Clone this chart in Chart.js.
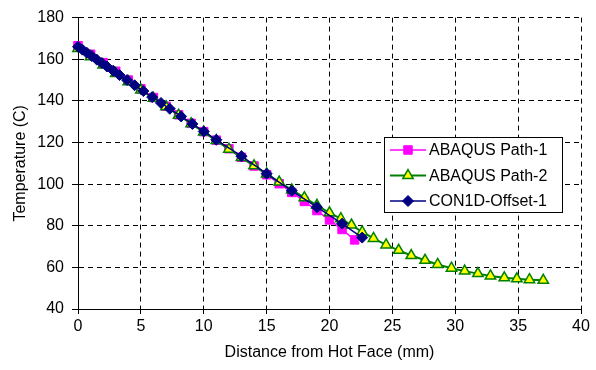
<!DOCTYPE html>
<html>
<head>
<meta charset="utf-8">
<script src="https://cdn.jsdelivr.net/npm/chart.js@4"></script>
<style>
    html, body { margin: 0; padding: 0; background: #fff; }
</style>
</head>
<body>
<canvas id="temperatureChart" width="596" height="370"></canvas>
<script>
// Données
const seriesNames = ['ABAQUS Path-1', 'ABAQUS Path-2', 'CON1D-Offset-1'];

const path1X = [0, 1, 2, 3, 4, 5, 6, 7, 8, 9, 10, 11, 12, 13, 14, 15, 16, 17, 18, 19, 20, 21, 22];
const path1T = [166.5, 162.4, 158.3, 154.2, 150.0, 145.8, 141.6, 137.4, 133.3, 129.2, 125.2, 121.1,
                117.0, 112.9, 108.7, 104.5, 100.2, 96.0, 91.7, 87.3, 82.8, 78.2, 73.2];

const path2X = [0, 1, 2, 3, 4, 5, 6, 7, 8, 9, 10, 11, 12, 13, 14, 15, 16, 17, 18, 19, 20,
                20.9, 21.75, 22.6, 23.5, 24.5, 25.5, 26.5, 27.6, 28.6, 29.7, 30.75, 31.8,
                32.8, 33.9, 34.9, 35.9, 37.0];
const path2T = [165.2, 161.2, 157.2, 153.2, 149.2, 145.2, 141.2, 137.2, 133.1, 129.0, 125.0,
                120.9, 116.8, 112.8, 108.8, 104.9, 101.0, 97.2, 93.5, 89.8, 86.2,
                83.4, 80.3, 77.0, 73.9, 70.8, 68.2, 65.7, 63.4, 61.4, 59.6, 58.2, 57.0,
                55.9, 55.0, 54.5, 54.1, 53.8];

const con1dX = [0, 0.35, 0.7, 1.1, 1.5, 1.9, 2.3, 2.8, 3.3, 3.9, 4.5, 5.2, 5.9, 6.6, 7.3,
                8.2, 9.1, 10, 11, 13, 15, 17, 19, 21, 22.6];
const con1dT = [166.0, 164.6, 163.1, 161.5, 159.8, 158.2, 156.5, 154.5, 152.4, 150.0, 147.5,
                144.7, 141.8, 139.0, 136.2, 132.5, 128.9, 125.3, 121.3, 113.4, 105.0,
                96.8, 88.9, 81.0, 74.3];

const xTickValues = [0, 5, 10, 15, 20, 25, 30, 35, 40];
const yTickValues = [40, 60, 80, 100, 120, 140, 160, 180];

const FONT = '"Liberation Sans", Arial, sans-serif';

// Assembler les points {x, y}
function toPoints(xs, ys) {
    return xs.map((x, i) => ({ x: x, y: ys[i] }));
}

// Légende dessinée dans la zone du graphique
const boxLegend = {
    id: 'boxLegend',
    afterDraw(chart) {
        const ctx = chart.ctx;
        const bx = 384, by = 137, bw = 178, bh = 75;
        ctx.save();
        ctx.fillStyle = '#fff';
        ctx.fillRect(bx, by, bw, bh);
        ctx.strokeStyle = '#000';
        ctx.lineWidth = 1;
        ctx.strokeRect(bx + 0.5, by + 0.5, bw, bh);

        const rows = [13, 38.5, 64];
        chart.data.datasets.forEach((ds, i) => {
            const y = by + rows[i];
            ctx.strokeStyle = ds.borderColor;
            ctx.lineWidth = ds.borderWidth;
            ctx.beginPath();
            ctx.moveTo(bx + 6, y);
            ctx.lineTo(bx + 42, y);
            ctx.stroke();

            ctx.fillStyle = ds.pointBackgroundColor;
            ctx.strokeStyle = ds.pointBorderColor;
            ctx.lineWidth = ds.pointBorderWidth;
            Chart.helpers.drawPoint(ctx, {
                pointStyle: ds.pointStyle,
                radius: ds.pointRadius,
                borderWidth: ds.pointBorderWidth,
                rotation: 0
            }, bx + 24, y);

            ctx.fillStyle = '#000';
            ctx.font = '16px ' + FONT;
            ctx.textBaseline = 'middle';
            ctx.textAlign = 'left';
            ctx.fillText(ds.label, bx + 45, y + 1);
        });
        ctx.restore();
    }
};

const ctx = document.getElementById('temperatureChart').getContext('2d');
const temperatureChart = new Chart(ctx, {
    type: 'line',
    data: {
        datasets: [
            {
                label: seriesNames[0],
                data: toPoints(path1X, path1T),
                borderColor: '#ff00ff',
                borderWidth: 1.5,
                pointStyle: 'rect',
                pointRadius: 6,
                pointBackgroundColor: '#ff00ff',
                pointBorderColor: '#ff00ff',
                pointBorderWidth: 1,
                order: 3
            },
            {
                label: seriesNames[1],
                data: toPoints(path2X, path2T),
                borderColor: '#008000',
                borderWidth: 2,
                pointStyle: 'triangle',
                pointRadius: 6,
                pointBackgroundColor: '#ffff00',
                pointBorderColor: '#008000',
                pointBorderWidth: 1.5,
                order: 2
            },
            {
                label: seriesNames[2],
                data: toPoints(con1dX, con1dT),
                borderColor: '#000080',
                borderWidth: 1.5,
                pointStyle: 'rectRot',
                pointRadius: 5.5,
                pointBackgroundColor: '#000080',
                pointBorderColor: '#000080',
                pointBorderWidth: 1,
                order: 1
            }
        ]
    },
    options: {
        responsive: false,
        animation: false,
        devicePixelRatio: 1,
        layout: { padding: { top: 14, right: 15, left: 0, bottom: 0 } },
        elements: { line: { tension: 0 } },
        datasets: { line: { clip: false } },
        plugins: {
            legend: { display: false },
            tooltip: { enabled: false }
        },
        scales: {
            x: {
                type: 'linear',
                min: 0,
                max: 40,
                afterBuildTicks: scale => { scale.ticks = xTickValues.map(v => ({ value: v })); },
                afterFit: scale => { scale.height = 61; },
                grid: { color: '#000', lineWidth: 1, tickLength: 5 },
                border: { display: true, color: '#000', width: 1, dash: [5, 4] },
                ticks: { color: '#000', font: { family: FONT, size: 16 }, padding: 3, maxRotation: 0 },
                title: {
                    display: true,
                    text: 'Distance from Hot Face (mm)',
                    color: '#000',
                    font: { family: FONT, size: 16 },
                    padding: { top: 0, bottom: 8 }
                }
            },
            y: {
                type: 'linear',
                min: 40,
                max: 180,
                afterBuildTicks: scale => { scale.ticks = yTickValues.map(v => ({ value: v })); },
                afterFit: scale => { scale.width = 78; },
                grid: { color: '#000', lineWidth: 1, tickLength: 6 },
                border: { display: true, color: '#000', width: 1, dash: [5, 4] },
                ticks: { color: '#000', font: { family: FONT, size: 16 }, padding: 8 },
                title: {
                    display: true,
                    text: 'Temperature (C)',
                    color: '#000',
                    font: { family: FONT, size: 16 },
                    padding: { top: 11, bottom: 0 }
                }
            }
        }
    },
    plugins: [boxLegend]
});
</script>
</body>
</html>
